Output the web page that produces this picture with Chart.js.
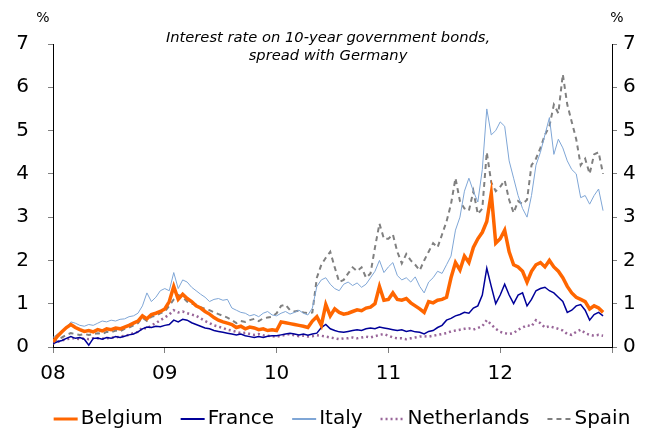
<!DOCTYPE html>
<html>
<head>
<meta charset="utf-8">
<script src="https://cdn.jsdelivr.net/npm/chart.js@4"></script>
<style>
  html, body { margin: 0; padding: 0; background: #fff; }
  #wrap { width: 645px; height: 429px; }
</style>
</head>
<body>
<div id="wrap"><canvas id="grafica" width="645" height="429"></canvas></div>
<script>
// spread vs Germany, % - one value every 0.04 year from start of 2008
const startYear = 2008;
const step = 0.04;

const belgium = [
    0.12, 0.25, 0.35, 0.45, 0.52, 0.45, 0.4, 0.36, 0.38, 0.35, 0.4, 0.37, 0.42, 0.4, 0.44, 0.42, 0.46, 0.5, 0.55, 0.6, 0.72, 0.65, 0.75, 0.78, 0.82,
    0.88, 1.05, 1.4, 1.1, 1.22, 1.12, 1.05, 0.95, 0.9, 0.82, 0.76, 0.68, 0.62, 0.58, 0.55, 0.52, 0.45, 0.48, 0.42, 0.46, 0.44, 0.4, 0.42, 0.38, 0.4,
    0.38, 0.58, 0.56, 0.54, 0.52, 0.5, 0.48, 0.45, 0.6, 0.7, 0.5, 0.98, 0.72, 0.88, 0.8, 0.76, 0.78, 0.82, 0.86, 0.84, 0.9, 0.92, 1.0, 1.4, 1.08,
    1.1, 1.25, 1.1, 1.08, 1.12, 1.02, 0.95, 0.88, 0.8, 1.05, 1.02, 1.08, 1.1, 1.15, 1.6, 1.95, 1.78, 2.1, 1.95, 2.3, 2.5, 2.65, 2.9, 3.55, 2.4,
    2.5, 2.7, 2.2, 1.9, 1.85, 1.75, 1.5, 1.75, 1.9, 1.95, 1.85, 2.0, 1.85, 1.75, 1.6, 1.4, 1.25, 1.15, 1.1, 1.05, 0.88, 0.95, 0.9, 0.8
];
const france = [
    0.08, 0.12, 0.15, 0.2, 0.24, 0.2, 0.22, 0.18, 0.04, 0.2, 0.21, 0.18, 0.22, 0.2, 0.24, 0.22, 0.25, 0.28, 0.3, 0.35, 0.42, 0.46, 0.45, 0.48, 0.47,
    0.5, 0.52, 0.62, 0.58, 0.64, 0.62, 0.56, 0.52, 0.48, 0.44, 0.42, 0.38, 0.36, 0.34, 0.32, 0.3, 0.28, 0.3, 0.26, 0.24, 0.22, 0.24, 0.22, 0.25, 0.26,
    0.26, 0.28, 0.3, 0.32, 0.3, 0.28, 0.3, 0.27, 0.3, 0.32, 0.45, 0.52, 0.42, 0.38, 0.35, 0.34, 0.36, 0.38, 0.4, 0.38, 0.42, 0.44, 0.42, 0.46, 0.44,
    0.42, 0.4, 0.38, 0.4, 0.36, 0.38, 0.35, 0.34, 0.3, 0.36, 0.38, 0.45, 0.5, 0.62, 0.66, 0.72, 0.75, 0.8, 0.78, 0.9, 0.95, 1.2, 1.82, 1.4, 1.0,
    1.2, 1.45, 1.2, 1.0, 1.2, 1.25, 0.95, 1.1, 1.3, 1.35, 1.38, 1.3, 1.25, 1.15, 1.05, 0.8, 0.85, 0.95, 0.98, 0.85, 0.62, 0.75, 0.8, 0.72
];
const italy = [
    0.22, 0.3, 0.36, 0.45, 0.58, 0.55, 0.5, 0.48, 0.52, 0.5, 0.55, 0.6, 0.58, 0.62, 0.6, 0.64, 0.65, 0.7, 0.72, 0.78, 0.95, 1.25, 1.05, 1.15, 1.3,
    1.35, 1.3, 1.72, 1.35, 1.55, 1.5, 1.38, 1.3, 1.22, 1.15, 1.05, 1.1, 1.12, 1.08, 1.1, 0.9, 0.85, 0.8, 0.78, 0.72, 0.75, 0.7, 0.78, 0.82, 0.74,
    0.72, 0.78, 0.82, 0.76, 0.8, 0.85, 0.78, 0.74, 0.9, 1.4, 1.55, 1.6, 1.45, 1.35, 1.3, 1.45, 1.5, 1.42, 1.48, 1.38, 1.45, 1.6, 1.75, 2.0, 1.72,
    1.85, 1.95, 1.65, 1.55, 1.6, 1.5, 1.62, 1.4, 1.25, 1.5, 1.6, 1.75, 1.7, 1.9, 2.1, 2.7, 3.0, 3.6, 3.9, 3.6, 3.35, 4.1, 5.5, 4.9, 5.0,
    5.2, 5.1, 4.3, 3.9, 3.5, 3.2, 3.0, 3.5, 4.2, 4.5, 4.9, 5.3, 4.45, 4.8, 4.6, 4.3, 4.1, 4.0, 3.45, 3.5, 3.3, 3.5, 3.65, 3.15
];
const netherlands = [
    0.08, 0.12, 0.15, 0.18, 0.2, 0.2, 0.18, 0.2, 0.18, 0.2, 0.2, 0.19, 0.2, 0.22, 0.22, 0.24, 0.26, 0.28, 0.32, 0.35, 0.45, 0.42, 0.5, 0.55, 0.62,
    0.68, 0.75, 0.85, 0.8, 0.82, 0.78, 0.75, 0.72, 0.66, 0.6, 0.55, 0.5, 0.47, 0.44, 0.4, 0.38, 0.35, 0.32, 0.33, 0.3, 0.28, 0.3, 0.27, 0.26, 0.25,
    0.24, 0.26, 0.28, 0.3, 0.27, 0.25, 0.26, 0.24, 0.25, 0.27, 0.26, 0.24, 0.22, 0.2, 0.18, 0.2, 0.2, 0.22, 0.2, 0.22, 0.24, 0.22, 0.25, 0.28, 0.3,
    0.26, 0.22, 0.2, 0.2, 0.18, 0.2, 0.22, 0.24, 0.25, 0.24, 0.26, 0.28, 0.3, 0.32, 0.36, 0.38, 0.4, 0.42, 0.43, 0.4, 0.44, 0.48, 0.62, 0.52, 0.42,
    0.35, 0.32, 0.3, 0.32, 0.4, 0.45, 0.5, 0.48, 0.62, 0.55, 0.45, 0.48, 0.45, 0.42, 0.38, 0.3, 0.28, 0.35, 0.4, 0.32, 0.28, 0.26, 0.28, 0.26
];
const spain = [
    0.1, 0.18, 0.22, 0.28, 0.32, 0.3, 0.28, 0.3, 0.28, 0.3, 0.32, 0.3, 0.35, 0.34, 0.38, 0.36, 0.42, 0.45, 0.5, 0.55, 0.68, 0.6, 0.7, 0.72, 0.78,
    0.82, 0.95, 1.1, 1.2, 1.15, 1.05, 1.0, 0.98, 0.92, 0.88, 0.85, 0.8, 0.76, 0.72, 0.68, 0.62, 0.55, 0.6, 0.58, 0.62, 0.65, 0.6, 0.66, 0.68, 0.7,
    0.78, 0.95, 0.98, 0.85, 0.82, 0.84, 0.8, 0.78, 0.8, 1.6, 1.9, 2.06, 2.2, 1.84, 1.5, 1.55, 1.7, 1.84, 1.75, 1.84, 1.6, 1.7, 2.3, 2.85, 2.5,
    2.5, 2.6, 2.2, 1.93, 2.15, 2.0, 1.9, 1.77, 2.0, 2.2, 2.4, 2.3, 2.6, 2.9, 3.3, 3.9, 3.37, 3.2, 3.15, 3.6, 3.07, 3.2, 4.5, 3.8, 3.6,
    3.7, 3.85, 3.4, 3.1, 3.37, 3.3, 3.4, 4.2, 4.35, 4.6, 4.9, 5.1, 5.6, 5.4, 6.3, 5.6, 5.2, 4.8, 4.2, 4.35, 4.0, 4.45, 4.5, 4.0
];

const yearLabels = ['08', '09', '10', '11', '12'];
const titleLines = ['Interest rate on 10-year government bonds,', 'spread with Germany'];

function puntos(vals) {
    return vals.map((v, i) => ({ x: startYear + i * step, y: v }));
}

const fuente = 'DejaVu Sans, Verdana, sans-serif';

// titulo, "%" encima de los ejes y leyenda abajo
const textosExtra = {
    id: 'textosExtra',
    afterDraw(chart) {
        const ctx = chart.ctx;
        const a = chart.chartArea;
        ctx.save();
        ctx.fillStyle = '#000';
        ctx.textAlign = 'center';
        ctx.textBaseline = 'middle';
        ctx.font = 'italic 14.7px ' + fuente;
        ctx.fillText(titleLines[0], 328, 38);
        ctx.fillText(titleLines[1], 328, 56);
        ctx.font = '14px ' + fuente;
        ctx.fillText('%', a.left - 10, 18);
        ctx.fillText('%', a.right + 5, 18);

        // leyenda
        const lineLen = 24, gapText = 3, gapItem = 18, yLeg = 419;
        ctx.font = '20px ' + fuente;
        const sets = chart.data.datasets;
        let total = 0;
        sets.forEach((ds, i) => {
            total += lineLen + gapText + ctx.measureText(ds.label).width + (i < sets.length - 1 ? gapItem : 0);
        });
        let x = 342 - total / 2;
        ctx.textAlign = 'left';
        sets.forEach(ds => {
            ctx.beginPath();
            ctx.strokeStyle = ds.borderColor;
            ctx.lineWidth = Math.min(Math.max(ds.borderWidth, 2), 3);
            ctx.setLineDash(ds.borderDash || []);
            ctx.moveTo(x, yLeg);
            ctx.lineTo(x + lineLen, yLeg);
            ctx.stroke();
            ctx.setLineDash([]);
            x += lineLen + gapText;
            ctx.fillText(ds.label, x, yLeg);
            x += ctx.measureText(ds.label).width + gapItem;
        });
        ctx.restore();
    }
};

new Chart(document.getElementById('grafica').getContext('2d'), {
    type: 'line',
    data: {
        datasets: [
            { label: 'Belgium', data: puntos(belgium), borderColor: '#FF6600', backgroundColor: '#FF6600', borderWidth: 3.5 },
            { label: 'France', data: puntos(france), borderColor: '#000099', backgroundColor: '#000099', borderWidth: 1.5 },
            { label: 'Italy', data: puntos(italy), borderColor: '#7FA6D6', backgroundColor: '#7FA6D6', borderWidth: 1 },
            { label: 'Netherlands', data: puntos(netherlands), borderColor: '#996699', backgroundColor: '#996699', borderWidth: 2.5, borderDash: [2, 3] },
            { label: 'Spain', data: puntos(spain), borderColor: '#808080', backgroundColor: '#808080', borderWidth: 2, borderDash: [5, 4] }
        ]
    },
    options: {
        responsive: false,
        animation: false,
        elements: { point: { radius: 0 }, line: { tension: 0 } },
        layout: { padding: { top: 44, left: 0, right: 0, bottom: 46 } },
        plugins: {
            title: { display: false },
            tooltip: { enabled: false },
            legend: { display: false }
        },
        scales: {
            x: {
                type: 'linear',
                min: 2008,
                max: 2013,
                afterBuildTicks(s) {
                    s.ticks = [2008, 2009, 2010, 2011, 2012, 2013].map(v => ({ value: v }));
                },
                ticks: {
                    autoSkip: false,
                    maxRotation: 0,
                    color: '#000',
                    font: { size: 20, family: fuente },
                    padding: 9,
                    callback: (v) => yearLabels[Math.round(v) - startYear] || ''
                },
                grid: { drawOnChartArea: false, tickLength: 6, color: '#808080' },
                border: { color: '#000', width: 1 },
                afterFit(s) { s.height = 36; }
            },
            y: {
                position: 'left',
                min: 0,
                max: 7,
                ticks: { stepSize: 1, color: '#000', font: { size: 20, family: fuente }, padding: 19 },
                grid: { drawOnChartArea: false, tickLength: 5, color: '#808080' },
                border: { color: '#000', width: 1 },
                afterFit(s) { s.width = 53; }
            },
            y2: {
                position: 'right',
                display: true,
                min: 0,
                max: 7,
                ticks: { stepSize: 1, color: '#000', font: { size: 20, family: fuente }, padding: 6 },
                grid: { drawOnChartArea: false, tickLength: 5, color: '#808080' },
                border: { color: '#000', width: 1 },
                afterFit(s) { s.width = 33; }
            }
        }
    },
    plugins: [textosExtra]
});
</script>
</body>
</html>
